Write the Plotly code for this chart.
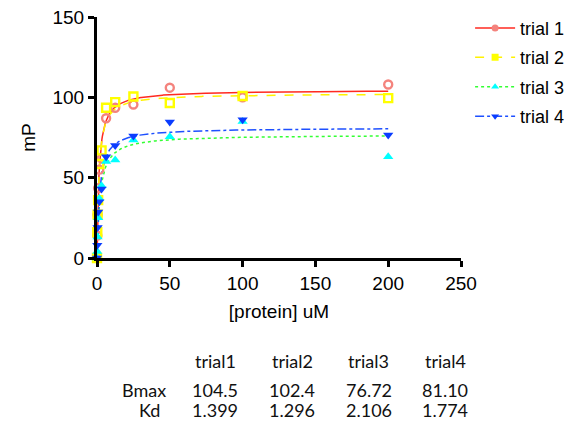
import numpy as np
import plotly.graph_objects as go

# Protein concentrations (uM), serial dilution
conc = [0, 0.195, 0.39, 0.78, 1.56, 3.125, 6.25, 12.5, 25, 50, 100, 200]

# Polarization readings (mP) per trial
trial1 = [0, 14, 27, 43.5, 55, 62, 87, 93.5, 95.5, 106, 100, 108]
trial2 = [0, 16, 27, 36, 58.5, 67, 93.5, 97, 100.5, 96.5, 100.8, 99.5]
trial3 = [0, 4, 13, 25, 37, 45, 60, 61, 73.4, 75.5, 85, 63]
trial4 = [0, 8, 19, 28.6, 35, 43, 63, 70, 76, 84.6, 86, 76.5]

# One-site binding fit results
names = ["trial 1", "trial 2", "trial 3", "trial 4"]
table_headers = ["trial1", "trial2", "trial3", "trial4"]
bmax = [104.5, 102.4, 76.72, 81.10]
kd = [1.399, 1.296, 2.106, 1.774]
bmax_labels = ["104.5", "102.4", "76.72", "81.10"]
kd_labels = ["1.399", "1.296", "2.106", "1.774"]

x_ticks = [0, 50, 100, 150, 200, 250]
y_ticks = [0, 50, 100, 150]

series = [trial1, trial2, trial3, trial4]
marker_colors = ["#F4837D", "#FFFF00", "#00FFFF", "#0A3CFF"]
line_colors = ["#FF2A20", "#FFF200", "#33FF33", "#1E50FF"]
symbols = ["circle-open", "square-open", "triangle-up", "triangle-down"]
dashes = ["solid", "dash", "dot", "dashdot"]

fig = go.Figure()
xfit = np.linspace(0, 200, 600)

for i in range(4):
    yfit = bmax[i] * xfit / (kd[i] + xfit)
    fig.add_trace(go.Scatter(
        x=xfit, y=yfit, mode="lines", showlegend=False, hoverinfo="skip",
        line=dict(color=line_colors[i], width=1.5, dash=dashes[i]),
        cliponaxis=False,
    ))

for i in range(4):
    open_sym = symbols[i].endswith("open")
    fig.add_trace(go.Scatter(
        x=conc, y=series[i], mode="markers", showlegend=False,
        marker=dict(symbol=symbols[i], size=8 if open_sym else 9,
                    color=marker_colors[i],
                    line=dict(width=2.4 if open_sym else 0, color=marker_colors[i])),
        cliponaxis=False,
    ))

# legend entries showing line style together with the marker
for i in range(4):
    fig.add_trace(go.Scatter(
        x=[None], y=[None], mode="lines+markers", name=names[i],
        legendgroup=f"g{i}",
        line=dict(color=line_colors[i], width=1.5, dash=dashes[i]),
        marker=dict(symbol=symbols[i].replace("-open", ""), size=7,
                    color=marker_colors[i]),
    ))

# plot area spans pixels x 97..461 and y 17..258
L, R, T, B = 97, 461, 17, 258
W, H = 573, 422

def px(xp):
    return (xp - L) / (R - L)

def py(yp):
    return (B - yp) / (B - T)

tfont = dict(family="Lato, Noto Sans, sans-serif", size=18, color="#111")

def cell(xp, yp, text):
    fig.add_annotation(x=px(xp), y=py(yp), text=text, xref="paper", yref="paper",
                       xanchor="center", yanchor="middle", showarrow=False, font=tfont)

col_x = [215, 292, 368.5, 445]
for j in range(4):
    cell(col_x[j], 361, table_headers[j])
    cell(col_x[j], 390, bmax_labels[j])
    cell(col_x[j], 410, kd_labels[j])
cell(144, 390, "Bmax")
cell(149, 410, "Kd")

afont = dict(family="Liberation Sans, Arial, sans-serif", size=19, color="#000")

fig.update_layout(
    width=W, height=H,
    margin=dict(l=L, r=W - R, t=T, b=H - B, autoexpand=False),
    paper_bgcolor="white", plot_bgcolor="white",
    font=afont,
    legend=dict(x=1.025, y=1.03, xanchor="left", yanchor="top",
                font=dict(family="Liberation Sans, Arial, sans-serif", size=18),
                bgcolor="rgba(0,0,0,0)", itemwidth=40, tracegroupgap=3),
    xaxis=dict(range=[0, 250], tickvals=x_ticks, showgrid=False, zeroline=False,
               showline=True, linecolor="black", linewidth=3,
               ticks="outside", ticklen=6, tickwidth=3, tickcolor="black",
               tickfont=afont,
               title=dict(text="[protein] uM", font=afont, standoff=12)),
    yaxis=dict(range=[0, 150], tickvals=y_ticks, showgrid=False, zeroline=False,
               showline=True, linecolor="black", linewidth=3,
               ticks="outside", ticklen=6, tickwidth=3, tickcolor="black",
               tickfont=afont,
               title=dict(text="mP", font=afont, standoff=12)),
)

fig.write_html("out.html")
